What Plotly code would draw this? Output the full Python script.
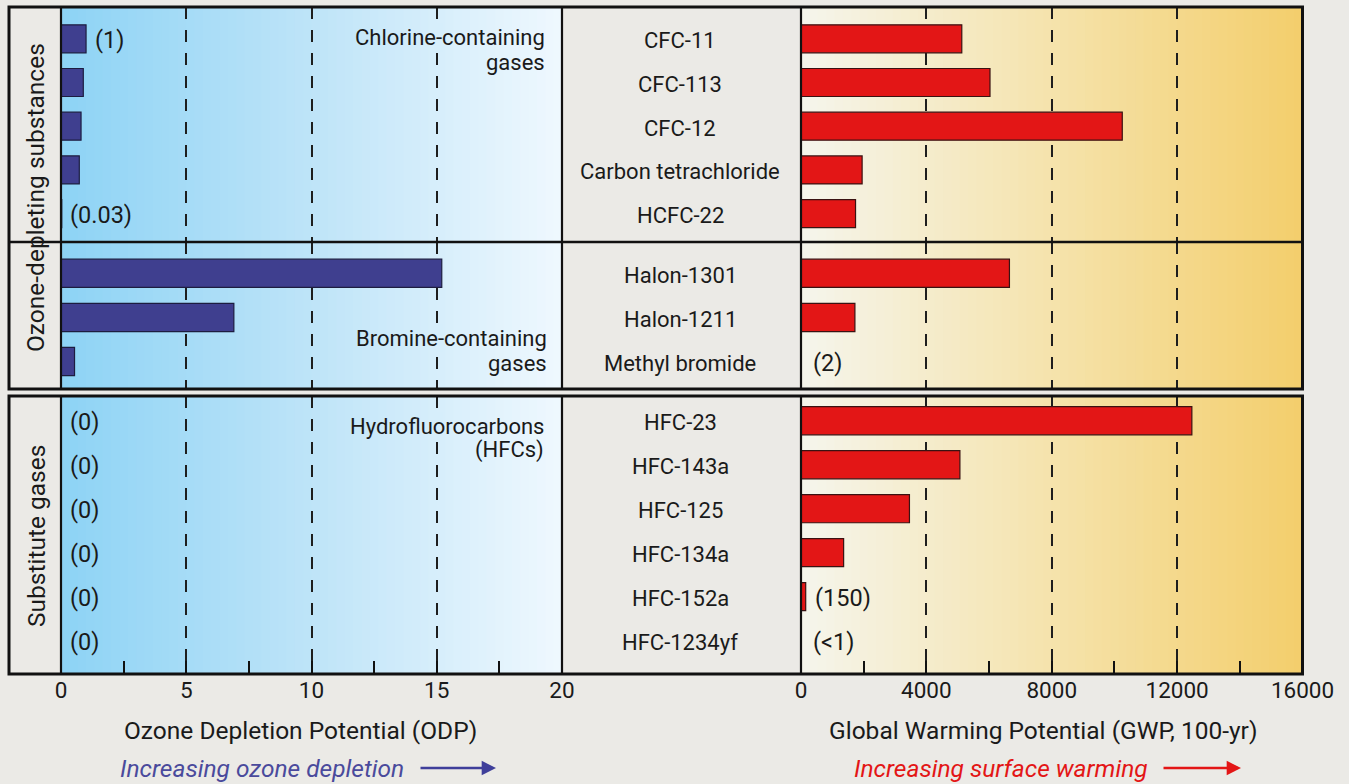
import plotly.graph_objects as go

W, H = 1349, 784

# ---------------- data ----------------
chlorine_gases = ["CFC-11", "CFC-113", "CFC-12", "Carbon tetrachloride", "HCFC-22"]
chlorine_odp = [1.0, 0.89, 0.80, 0.73, 0.03]
chlorine_gwp = [5130, 6030, 10250, 1950, 1740]
chlorine_odp_labels = ["(1)", "", "", "", "(0.03)"]
chlorine_gwp_labels = ["", "", "", "", ""]

bromine_gases = ["Halon-1301", "Halon-1211", "Methyl bromide"]
bromine_odp = [15.2, 6.9, 0.54]
bromine_gwp = [6650, 1720, 2]
bromine_odp_labels = ["", "", ""]
bromine_gwp_labels = ["", "", "(2)"]

hfc_gases = ["HFC-23", "HFC-143a", "HFC-125", "HFC-134a", "HFC-152a", "HFC-1234yf"]
hfc_odp = [0, 0, 0, 0, 0, 0]
hfc_gwp = [12470, 5070, 3460, 1360, 150, 0.5]
hfc_odp_labels = ["(0)", "(0)", "(0)", "(0)", "(0)", "(0)"]
hfc_gwp_labels = ["", "", "", "", "(150)", "(&lt;1)"]

odp_ticks = [0, 5, 10, 15, 20]
gwp_ticks = [0, 4000, 8000, 12000, 16000]


def px_x(p):
    return p / W


def px_y(p):
    return 1 - p / H


FONT = "Roboto"
TXT = "#1a1a1a"
BAR_BLUE = "#3f3f8f"
BAR_RED = "#e31616"

NAME_SIZE = 22
LABEL_SIZE = 23.5
TICK_SIZE = 22.5
TITLE_SIZE = 24.5

fig = go.Figure()

sections = [
    dict(gases=chlorine_gases, odp=chlorine_odp, gwp=chlorine_gwp,
         odpl=chlorine_odp_labels, gwpl=chlorine_gwp_labels, ya="y"),
    dict(gases=bromine_gases, odp=bromine_odp, gwp=bromine_gwp,
         odpl=bromine_odp_labels, gwpl=bromine_gwp_labels, ya="y2"),
    dict(gases=hfc_gases, odp=hfc_odp, gwp=hfc_gwp,
         odpl=hfc_odp_labels, gwpl=hfc_gwp_labels, ya="y3"),
]


def ann(**kw):
    d = dict(showarrow=False, xanchor="center", yanchor="middle")
    d.update(kw)
    return d


annotations = []
for s in sections:
    rows = list(range(len(s["gases"])))
    fig.add_trace(go.Bar(
        x=s["odp"], y=rows, orientation="h", xaxis="x", yaxis=s["ya"],
        width=0.64, marker=dict(color=BAR_BLUE, line=dict(color="#1d1d40", width=1.2)),
        showlegend=False, hovertext=s["gases"], hoverinfo="text+x"))
    fig.add_trace(go.Bar(
        x=s["gwp"], y=rows, orientation="h", xaxis="x2", yaxis=s["ya"],
        width=0.64, marker=dict(color=BAR_RED, line=dict(color="#3a1212", width=1.2)),
        showlegend=False, hovertext=s["gases"], hoverinfo="text+x"))
    for r, g in zip(rows, s["gases"]):
        annotations.append(ann(x=px_x(680), xref="paper", y=r, yref=s["ya"],
                               text=g, yshift=-2,
                               font=dict(size=NAME_SIZE, color=TXT, family=FONT)))
    for r, v, lab in zip(rows, s["odp"], s["odpl"]):
        if lab:
            annotations.append(ann(x=v, xref="x", y=r, yref=s["ya"], text=lab,
                                   xanchor="left", xshift=7 if v > 0.5 else (6 if v > 0 else 7),
                                   yshift=-1, font=dict(size=LABEL_SIZE, color=TXT, family=FONT)))
    for r, v, lab in zip(rows, s["gwp"], s["gwpl"]):
        if lab:
            annotations.append(ann(x=v, xref="x2", y=r, yref=s["ya"], text=lab,
                                   xanchor="left", xshift=7 if v > 100 else 10,
                                   yshift=-1, font=dict(size=LABEL_SIZE, color=TXT, family=FONT)))

# group notes (right aligned inside ODP panel)
notes = [("Chlorine-containing", 547, 37), ("gases", 547, 62),
         ("Bromine-containing", 549, 338), ("gases", 549, 363),
         ("Hydrofluorocarbons", 546, 426), ("(HFCs)", 546, 450)]
for t, xp, yp in notes:
    annotations.append(ann(x=px_x(xp), y=px_y(yp), xref="paper", yref="paper",
                           text=t, xanchor="right",
                           font=dict(size=NAME_SIZE, color=TXT, family=FONT)))

# rotated group titles
annotations.append(ann(x=px_x(36), y=px_y(198), xref="paper", yref="paper",
                       text="Ozone-depleting substances", textangle=-90,
                       font=dict(size=TITLE_SIZE, color=TXT, family=FONT)))
annotations.append(ann(x=px_x(36), y=px_y(536), xref="paper", yref="paper",
                       text="Substitute gases", textangle=-90,
                       font=dict(size=TITLE_SIZE, color=TXT, family=FONT)))

# axis titles
annotations.append(ann(x=px_x(300), y=px_y(730), xref="paper", yref="paper",
                       text="Ozone Depletion Potential (ODP)",
                       font=dict(size=TITLE_SIZE, color=TXT, family=FONT)))
annotations.append(ann(x=px_x(1043), y=px_y(730), xref="paper", yref="paper",
                       text="Global Warming Potential (GWP, 100-yr)",
                       font=dict(size=TITLE_SIZE, color=TXT, family=FONT)))

# increasing arrows
annotations.append(ann(x=px_x(262), y=px_y(768), xref="paper", yref="paper",
                       text="Increasing ozone depletion",
                       font=dict(size=TITLE_SIZE, color="#4a4a9c", family=FONT, style="italic")))
annotations.append(dict(x=px_x(496), y=px_y(768), xref="paper", yref="paper",
                        text="", showarrow=True, ax=-77, ay=0, arrowhead=2,
                        arrowsize=1.1, arrowwidth=2.6, arrowcolor="#3f3f9a"))
annotations.append(ann(x=px_x(1001), y=px_y(768), xref="paper", yref="paper",
                       text="Increasing surface warming",
                       font=dict(size=TITLE_SIZE, color="#e31616", family=FONT, style="italic")))
annotations.append(dict(x=px_x(1241), y=px_y(768), xref="paper", yref="paper",
                        text="", showarrow=True, ax=-79, ay=0, arrowhead=2,
                        arrowsize=1.1, arrowwidth=2.6, arrowcolor="#e31616"))


# ---------------- background gradients (strips) ----------------
def lerp_color(stops, t):
    for i in range(len(stops) - 1):
        t0, c0 = stops[i]
        t1, c1 = stops[i + 1]
        if t <= t1:
            f = (t - t0) / (t1 - t0) if t1 > t0 else 0
            return "rgb(%d,%d,%d)" % tuple(round(a + (b - a) * f) for a, b in zip(c0, c1))
    return "rgb(%d,%d,%d)" % stops[-1][1]


blue_stops = [(0, (141, 211, 245)), (0.5, (190, 228, 248)), (1, (239, 248, 254))]
gold_stops = [(0, (245, 245, 236)), (0.5, (245, 227, 172)), (1, (243, 206, 108))]

shapes = []
boxes = [(7, 389), (396, 674)]
N = 60
for xref, stops in (("x domain", blue_stops), ("x2 domain", gold_stops)):
    for top, bot in boxes:
        for i in range(N):
            shapes.append(dict(type="rect", xref=xref, yref="paper",
                               x0=i / N, x1=min(1, (i + 1) / N + 0.004),
                               y0=px_y(bot), y1=px_y(top),
                               fillcolor=lerp_color(stops, (i + 0.5) / N),
                               line=dict(width=0), layer="below"))

# knock out the dashed gridline behind the group-note text lines that cross it
for yr, yc in (("y", -0.04), ("y2", 1.47), ("y3", 0.12)):
    shapes.append(dict(type="rect", xref="x", yref=yr, x0=14.75, x1=15.25,
                       y0=yc - 0.32, y1=yc + 0.32,
                       fillcolor=lerp_color(blue_stops, 0.75),
                       line=dict(width=0), layer="between"))

# frames
LC = "#111111"
for top, bot in boxes:
    shapes.append(dict(type="rect", xref="paper", yref="paper",
                       x0=px_x(9), x1=px_x(1302.5), y0=px_y(bot), y1=px_y(top),
                       line=dict(color=LC, width=3), layer="above"))
    for xr, xv in (("x domain", 0), ("x domain", 1), ("x2 domain", 0)):
        shapes.append(dict(type="line", xref=xr, yref="paper", x0=xv, x1=xv,
                           y0=px_y(bot), y1=px_y(top),
                           line=dict(color=LC, width=2.2), layer="above"))
shapes.append(dict(type="line", xref="paper", yref="paper", x0=px_x(9), x1=px_x(1302.5),
                   y0=px_y(242), y1=px_y(242), line=dict(color=LC, width=2.6), layer="above"))

# ---------------- axes ----------------
tick_common = dict(ticks="inside", ticklen=13, tickwidth=1.6, tickcolor=LC,
                   zeroline=False, showline=False, automargin=False)
grid_common = dict(showgrid=True, gridcolor="#1e1e1e", gridwidth=1.8, griddash="12px,11px")
y_common = dict(showticklabels=False, showgrid=False, zeroline=False, ticks="",
                automargin=False, anchor="x")

layout = dict(
    width=W, height=H, autosize=False,
    margin=dict(l=0, r=0, t=0, b=0, pad=0, autoexpand=False),
    paper_bgcolor="#ebeae6", plot_bgcolor="rgba(0,0,0,0)",
    font=dict(family=FONT, color=TXT),
    barmode="overlay", showlegend=False,
    xaxis=dict(domain=[px_x(61), px_x(562)], range=[0, 20], anchor="y3",
               tickvals=odp_ticks, ticktext=[str(v) for v in odp_ticks],
               tickfont=dict(size=TICK_SIZE, color=TXT),
               minor=dict(dtick=2.5, tick0=0, ticks="inside", ticklen=13, tickwidth=1.6,
                          tickcolor=LC, showgrid=False),
               **tick_common, **grid_common),
    xaxis2=dict(domain=[px_x(801), px_x(1302.5)], range=[0, 16000], anchor="y3",
                tickvals=gwp_ticks, ticktext=[str(v) for v in gwp_ticks],
                tickfont=dict(size=TICK_SIZE, color=TXT),
                minor=dict(dtick=2000, tick0=0, ticks="inside", ticklen=13, tickwidth=1.6,
                           tickcolor=LC, showgrid=False),
                **tick_common, **grid_common),
    xaxis3=dict(domain=[px_x(61), px_x(562)], range=[0, 20], anchor="y", side="top",
                dtick=2.5, tick0=0, showticklabels=False, showgrid=False, **tick_common),
    xaxis4=dict(domain=[px_x(801), px_x(1302.5)], range=[0, 16000], anchor="y", side="top",
                dtick=2000, tick0=0, showticklabels=False, showgrid=False, **tick_common),
    yaxis=dict(domain=[px_y(242), px_y(7)], range=[4.650, -0.728], **y_common),
    yaxis2=dict(domain=[px_y(389), px_y(242)], range=[2.623, -0.710], **y_common),
    yaxis3=dict(domain=[px_y(674), px_y(396)], range=[5.761, -0.564], **y_common),
    shapes=shapes,
    annotations=annotations,
)
fig.update_layout(**layout)

fig.write_html(
    "out.html",
    config=dict(responsive=False, displayModeBar=False),
    post_script="document.body.style.margin='0';document.body.style.overflow='hidden';",
)
